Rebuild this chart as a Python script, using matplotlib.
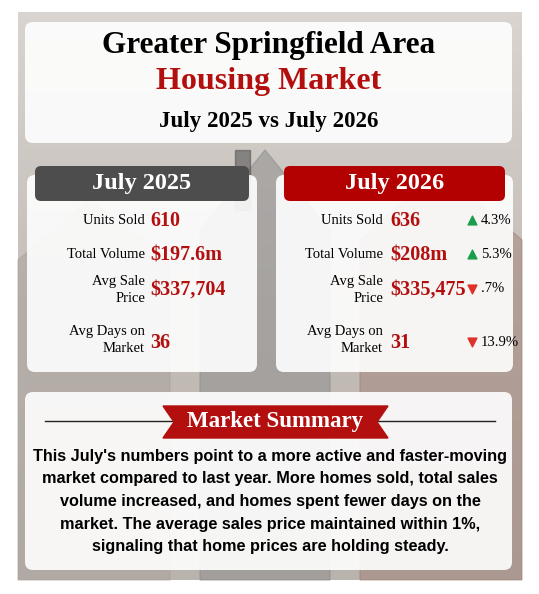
import numpy as np
import matplotlib.pyplot as plt
from matplotlib.patches import FancyBboxPatch, Polygon, Rectangle

# data
metrics = ['Units Sold', 'Total Volume', 'Avg Sale\nPrice', 'Avg Days on\nMarket']
vals_2025 = ['610', '$197.6m', '$337,704', '36']
vals_2026 = ['636', '$208m', '$335,475', '31']
changes = ['4.3%', '5.3%', '.7%', '13.9%']
directions = ['up', 'up', 'down', 'down']
summary = ["This July's numbers point to a more active and faster-moving",
           "market compared to last year. More homes sold, total sales",
           "volume increased, and homes spent fewer days on the",
           "market. The average sales price maintained within 1%,",
           "signaling that home prices are holding steady."]

RED = '#b30f0f'
SERIF = 'Liberation Serif'
SANS = 'Liberation Sans'

fig = plt.figure(figsize=(5.39, 5.94), dpi=100)
ax = fig.add_axes([0, 0, 1, 1])
ax.set_xlim(0, 539)
ax.set_ylim(594, 0)
ax.axis('off')

# background picture area
grad = np.linspace(0, 1, 100).reshape(-1, 1)
ax.imshow(grad, cmap=plt.matplotlib.colors.LinearSegmentedColormap.from_list('bg', ['#d9d4d0', '#c4bdb8', '#b9b3ae']),
          extent=[18, 522, 580, 12], aspect='auto', zorder=0)
ax.add_patch(Polygon([[200, 580], [200, 230], [265, 150], [330, 230], [330, 580]], color='#8e8e8e', alpha=0.55, zorder=1))
ax.add_patch(Polygon([[18, 580], [18, 260], [90, 200], [170, 260], [170, 580]], color='#a8a19b', alpha=0.5, zorder=1))
ax.add_patch(Polygon([[360, 580], [360, 240], [440, 170], [522, 240], [522, 580]], color='#9c7a6e', alpha=0.45, zorder=1))
ax.add_patch(Rectangle((235, 150), 15, 60, color='#555555', alpha=0.6, zorder=1))

def card(x0, y0, x1, y1, color='white', alpha=0.9, pad=8):
    ax.add_patch(FancyBboxPatch((x0, y0), x1 - x0, y1 - y0, boxstyle=f'round,pad=0,rounding_size={pad}',
                                fc=color, ec='none', alpha=alpha, zorder=2))

# title box
card(25, 22, 512, 143)
ax.text(269, 46, 'Greater Springfield Area', ha='center', va='center', family=SERIF, weight='bold', size=22.5, zorder=3)
ax.text(269, 82, 'Housing Market', ha='center', va='center', family=SERIF, weight='bold', size=23, color=RED, zorder=3)
ax.text(269, 121, 'July 2025 vs July 2026', ha='center', va='center', family=SERIF, weight='bold', size=16.5, zorder=3)

row_y = [220, 254, 290, 340]
val_y = [221, 255, 290, 343]

def panel(x0, x1, head, hcolor, vals, lab_x, val_x):
    card(x0, 175, x1, 372)
    card(x0 + 8, 166, x1 - 8, 201, color=hcolor, alpha=1, pad=6)
    ax.text((x0 + x1) / 2, 184, head, ha='center', va='center', family=SERIF, weight='bold', size=17.5, color='white', zorder=3)
    for m, v, ly, vy in zip(metrics, vals, row_y, val_y):
        ax.text(lab_x, ly, m, ha='right', va='center', family=SERIF, size=10.5, linespacing=1.3, zorder=3)
        ax.text(val_x, vy, v, ha='left', va='center', family=SERIF, weight='bold', size=14.5, color=RED, zorder=3)

panel(27, 257, 'July 2025', '#4d4d4d', vals_2025, 145, 150)
panel(276, 513, 'July 2026', '#b30000', vals_2026, 383, 390)

for c, d, vy in zip(changes, directions, val_y):
    up = d == 'up'
    ax.scatter(472, vy - 1, marker='^' if up else 'v', s=40, color='#1a9e4b' if up else '#e0302a', zorder=3)
    ax.text(481, vy - 1, c, ha='left', va='center', family=SERIF, size=10.5, zorder=3)

# summary box
card(25, 392, 512, 570)
ax.plot([45, 495], [421, 421], color='#222222', lw=1, zorder=3)
ax.add_patch(Polygon([[163, 406], [388, 406], [377, 422], [388, 438], [163, 438], [174, 422]], color=RED, zorder=4))
ax.text(275, 422, 'Market Summary', ha='center', va='center', family=SERIF, weight='bold', size=16.5, color='white', zorder=5)
for i, line in enumerate(summary):
    ax.text(270, 456 + i * 22.7, line, ha='center', va='center', family=SANS, weight='bold', size=11.7, zorder=3)

fig.savefig('out.png', dpi=100)
